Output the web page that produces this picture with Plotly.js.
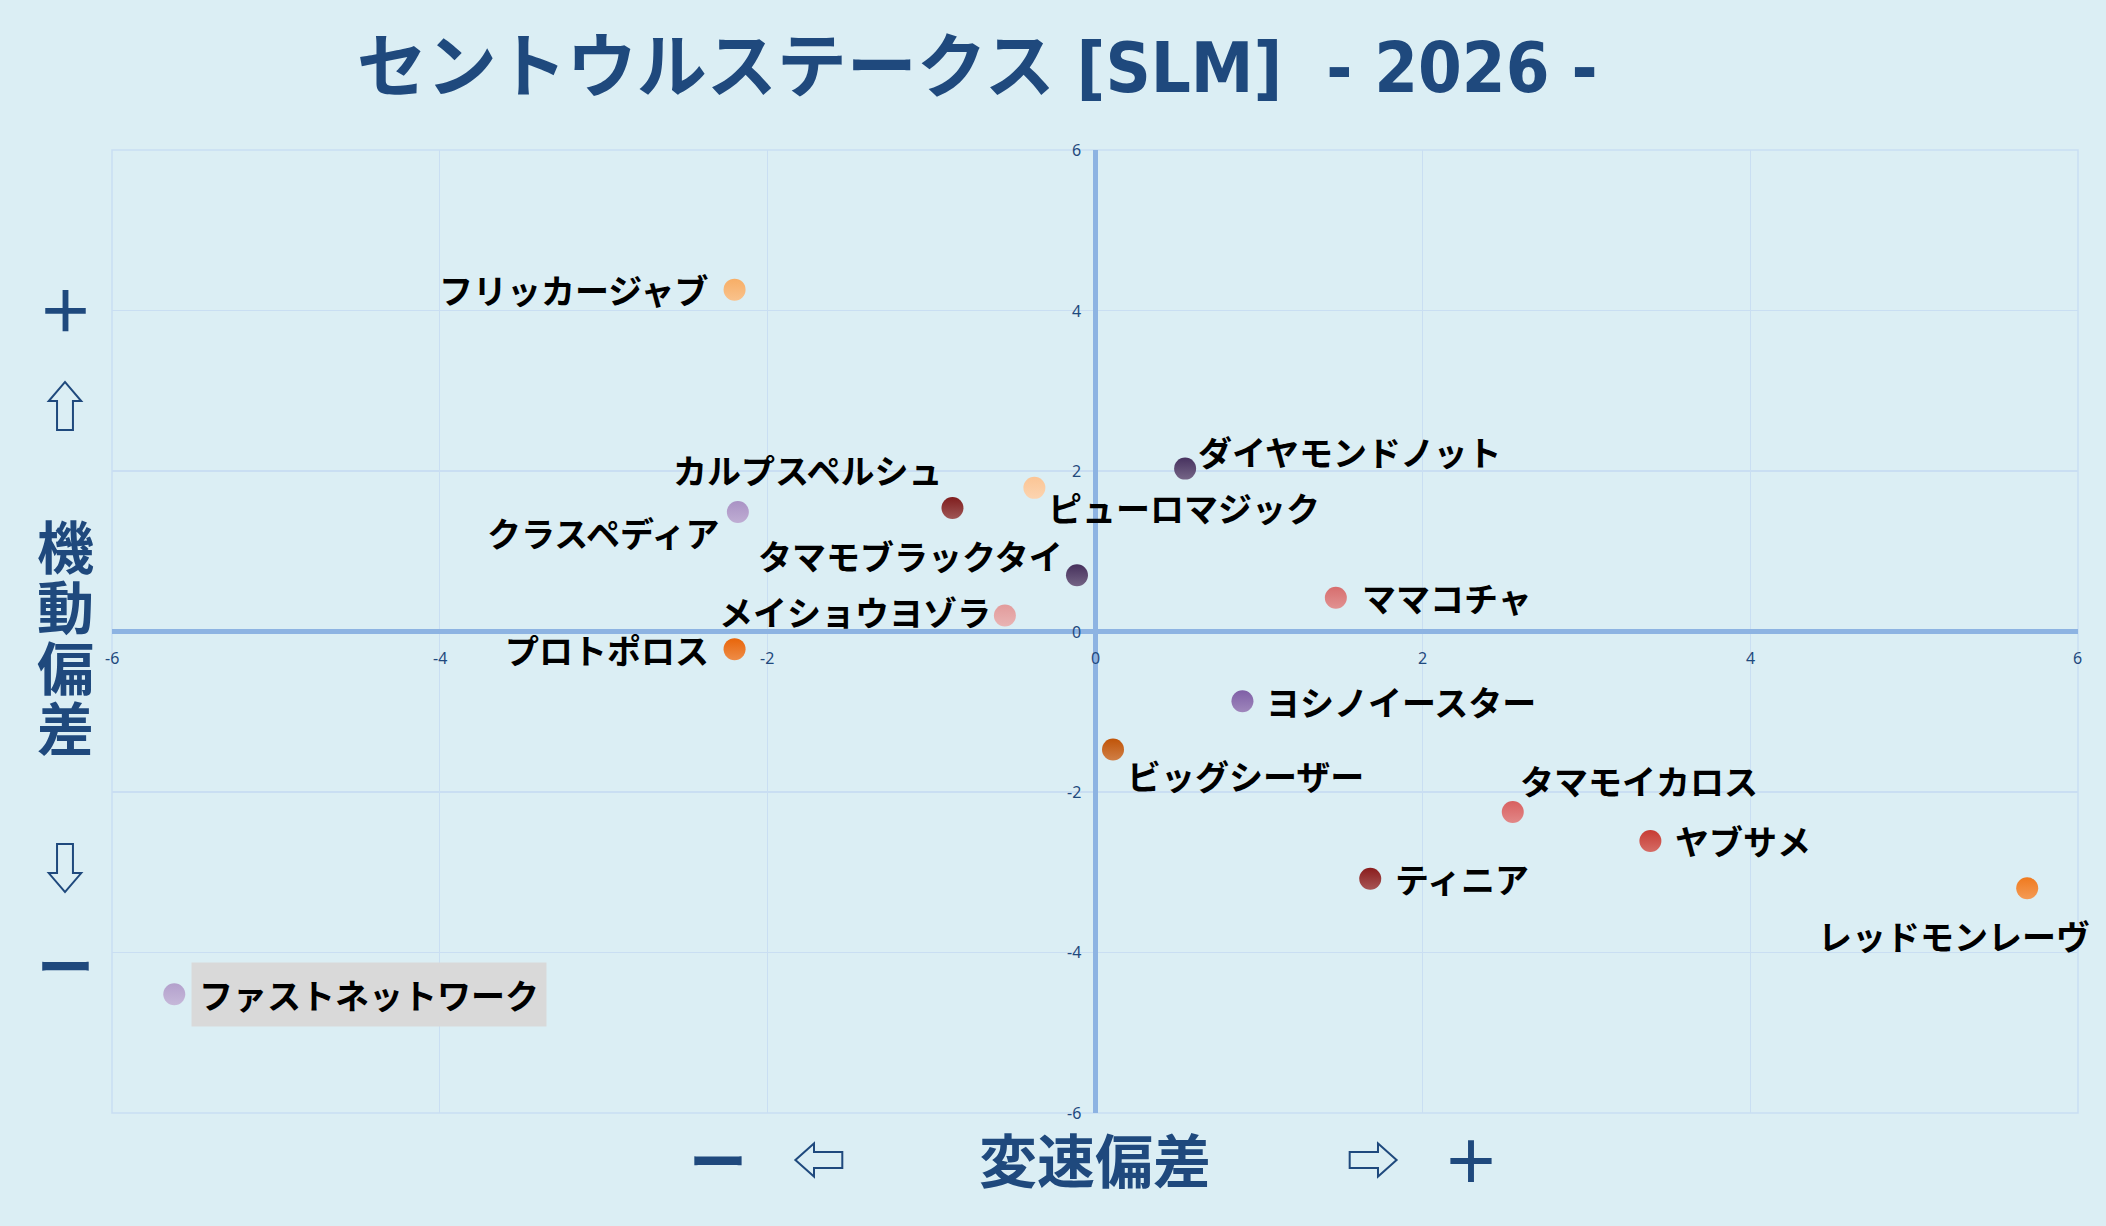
<!DOCTYPE html>
<html>
<head>
<meta charset="utf-8">
<script src="https://cdn.plot.ly/plotly-3.0.1.min.js"></script>
<style>
    html, body { margin: 0; padding: 0; background: #dbeef4; }
    #chart { width: 2106px; height: 1226px; outline: 3px solid #000; outline-offset: -3px; }
</style>
</head>
<body>
<div id="chart"></div>
<script>
// data
const horseNames = [
    'フリッカージャブ', 'クラスペディア', 'カルプスペルシュ', 'ピューロマジック',
    'ダイヤモンドノット', 'タマモブラックタイ', 'メイショウヨゾラ', 'プロトポロス',
    'ママコチャ', 'ヨシノイースター', 'ビッグシーザー', 'タマモイカロス',
    'ヤブサメ', 'ティニア', 'レッドモンレーヴ', 'ファストネットワーク'
];
const speedDev = [-2.20, -2.18, -0.87, -0.37, 0.55, -0.11, -0.55, -2.20, 1.47, 0.90, 0.11, 2.55, 3.39, 1.68, 5.69, -5.62];
const mobilityDev = [4.26, 1.49, 1.54, 1.79, 2.03, 0.70, 0.20, -0.22, 0.42, -0.87, -1.47, -2.25, -2.61, -3.08, -3.20, -4.52];
const markerColors = [
    '#f7ae66', '#a992c4', '#7f1d1d', '#fbc595',
    '#47325f', '#46305c', '#e29b9b', '#e8650a',
    '#d76e6e', '#7f5fa6', '#c05408', '#d86060',
    '#c73b33', '#8a1c1c', '#f07a1e', '#b3a0cc'
];
const tickValues = [-6, -4, -2, 0, 2, 4, 6];
const chartTitle = 'セントウルステークス [SLM]  - 2026 -';
const yLabelGlyphs = ['＋', '⇧', '機', '動', '偏', '差', '⇩', 'ー'];
const xLabelGlyphs = ['ー', '⇦', '変速偏差', '⇨', '＋'];

// where each label sits next to its point (pixels)
const labelPlace = [
    {anchor: 'right', dx: -25, dy: 0},
    {anchor: 'right', dx: -17, dy: -21},
    {anchor: 'center', dx: -144, dy: 38},
    {anchor: 'left', dx: 13, dy: -20},
    {anchor: 'left', dx: 12, dy: 17},
    {anchor: 'right', dx: -13, dy: 20},
    {anchor: 'right', dx: -13, dy: 4},
    {anchor: 'right', dx: -25, dy: 0},
    {anchor: 'left', dx: 25, dy: 0},
    {anchor: 'left', dx: 23, dy: 0},
    {anchor: 'left', dx: 13, dy: -26},
    {anchor: 'center', dx: 126, dy: 32},
    {anchor: 'left', dx: 24, dy: 0},
    {anchor: 'left', dx: 24, dy: 0},
    {anchor: 'center', dx: -73, dy: -47},
    {anchor: 'left', dx: 17, dy: 0, bg: '#d9d9d9'}
];

const navy = '#1f497d';
const gridColor = '#c9def2';
const jpFont = 'Noto Sans CJK JP, Noto Sans, sans-serif';

function shade(hex, amt) {
    const n = parseInt(hex.slice(1), 16);
    const c = [(n >> 16) & 255, (n >> 8) & 255, n & 255].map(v => Math.round(v + (255 - v) * amt));
    return 'rgb(' + c.join(',') + ')';
}

const points = {
    x: speedDev,
    y: mobilityDev,
    mode: 'markers',
    type: 'scatter',
    hoverinfo: 'text',
    text: horseNames,
    marker: {
        size: 22,
        color: markerColors,
        gradient: {type: 'vertical', color: markerColors.map(c => shade(c, 0.25))},
        line: {width: 0}
    }
};

const annotations = [];
horseNames.forEach((name, i) => {
    const p = labelPlace[i];
    annotations.push({
        x: speedDev[i], y: mobilityDev[i], xref: 'x', yref: 'y',
        text: name, showarrow: false,
        xanchor: p.anchor, yanchor: 'middle',
        xshift: p.dx, yshift: p.dy,
        bgcolor: p.bg || 'rgba(0,0,0,0)', borderpad: p.bg ? 7 : 0,
        font: {family: jpFont, size: 34, color: '#000', weight: 700}
    });
});
// tick labels sit beside the zero lines, like the original
tickValues.forEach(v => {
    annotations.push({
        x: v, y: 0, xref: 'x', yref: 'y', text: String(v), showarrow: false,
        xanchor: 'center', yanchor: 'middle',
        yshift: -26, font: {family: 'Noto Sans, sans-serif', size: 16, color: navy}
    });
    annotations.push({
        x: 0, y: v, xref: 'x', yref: 'y', text: String(v), showarrow: false,
        xanchor: 'right', yanchor: 'middle',
        xshift: -12, font: {family: 'Noto Sans, sans-serif', size: 16, color: navy}
    });
});
const yGlyphPos = [0.837, 0.737, 0.591, 0.5286, 0.4652, 0.4029, 0.2565, 0.1558];
yLabelGlyphs.forEach((g, i) => {
    const arrow = g === '⇧' || g === '⇩';
    annotations.push({
        x: -0.0237, y: yGlyphPos[i], xref: 'paper', yref: 'paper', text: g, showarrow: false,
        xanchor: 'center', yanchor: 'middle',
        font: {family: jpFont, size: arrow ? 54 : 57, color: navy, weight: arrow ? 400 : 700}
    });
});
const xGlyphPos = [0.3084, 0.3598, 0.5, 0.6415, 0.6913];
xLabelGlyphs.forEach((g, i) => {
    const arrow = g === '⇦' || g === '⇨';
    annotations.push({
        x: xGlyphPos[i], y: -0.0467, xref: 'paper', yref: 'paper', text: g, showarrow: false,
        xanchor: 'center', yanchor: 'middle',
        font: {family: jpFont, size: arrow ? 54 : 58, color: navy, weight: arrow ? 400 : 700}
    });
});

const axisBase = {
    range: [-6.0001, 6.0001],
    tickvals: tickValues,
    showticklabels: false,
    ticks: '',
    showgrid: true,
    gridcolor: gridColor,
    gridwidth: 1.5,
    zeroline: true,
    zerolinecolor: '#8db3e2',
    zerolinewidth: 5,
    showline: false,
    fixedrange: true
};

const layout = {
    width: 2106,
    height: 1226,
    margin: {l: 112, r: 28, t: 150, b: 113},
    paper_bgcolor: '#dbeef4',
    plot_bgcolor: '#dbeef4',
    showlegend: false,
    title: {
        text: chartTitle,
        x: 0.464, xanchor: 'center',
        y: 0.945, yanchor: 'middle',
        font: {family: 'DejaVu Sans Condensed, Noto Sans CJK JP, sans-serif', size: 70, color: navy, weight: 700}
    },
    xaxis: Object.assign({}, axisBase),
    yaxis: Object.assign({}, axisBase),
    // outer grid frame of the plot area
    shapes: [{
        type: 'rect', xref: 'paper', yref: 'paper', x0: 0, x1: 1, y0: 0, y1: 1,
        line: {color: gridColor, width: 1.5}, layer: 'below'
    }],
    annotations: annotations
};

Plotly.newPlot('chart', [points], layout, {displayModeBar: false, staticPlot: true});
</script>
</body>
</html>
